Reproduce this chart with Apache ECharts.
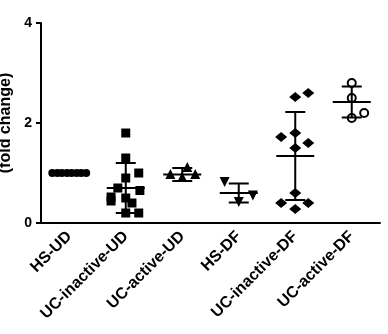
<!DOCTYPE html>
<html>
<head>
<meta charset="utf-8">
<script src="https://cdn.jsdelivr.net/npm/echarts@6/dist/echarts.min.js"></script>
<style>html,body{margin:0;padding:0;background:#fff}#c{width:388px;height:334px}</style>
</head>
<body>
<div id="c"></div>
<script>
var categories = ['HS-UD', 'UC-inactive-UD', 'UC-active-UD', 'HS-DF', 'UC-inactive-DF', 'UC-active-DF'];
var yTicks = [0, 2, 4];
var yName = '(fold change)';

// individual values per group and their horizontal jitter (category units)
var hsUD = [1.0, 1.0, 1.0, 1.0, 1.0, 1.0, 1.0, 1.0];
var hsUDJitter = [-0.3, -0.21, -0.13, -0.04, 0.04, 0.13, 0.21, 0.3];
var ucInactiveUD = [1.8, 1.3, 1.0, 0.9, 0.7, 0.65, 0.52, 0.44, 0.5, 0.4, 0.2, 0.2];
var ucInactiveUDJitter = [0, 0, 0.23, 0, -0.14, 0.25, -0.26, -0.26, 0, 0.11, 0, 0.23];
var ucActiveUD = [1.12, 0.98, 0.98, 0.92];
var ucActiveUDJitter = [0.09, -0.21, 0.23, 0];
var hsDF = [0.82, 0.55, 0.42];
var hsDFJitter = [-0.25, 0.25, 0];
var ucInactiveDF = [2.52, 2.6, 1.72, 1.8, 1.6, 1.5, 0.6, 0.4, 0.4, 0.28];
var ucInactiveDFJitter = [0, 0.23, -0.25, 0, 0.23, 0, 0, -0.25, 0.23, 0];
var ucActiveDF = [2.8, 2.5, 2.2, 2.1];
var ucActiveDFJitter = [0, 0, 0.22, 0];

var means = [1.0, 0.7, 0.97, 0.6, 1.34, 2.42];
var sds = [0.02, 0.5, 0.13, 0.19, 0.88, 0.31];

function pts(idx, vals, jit) {
  return vals.map(function (v, i) { return [idx + jit[i], v]; });
}

var font = 'Liberation Sans, Arial, sans-serif';
var chart = echarts.init(document.getElementById('c'), null, {renderer: 'canvas'});

var errData = means.map(function (m, i) { return [i, m, sds[i]]; });

var scatterBase = {type: 'scatter', xAxisIndex: 1, yAxisIndex: 0, itemStyle: {color: '#000', opacity: 1}, z: 3, silent: true};

chart.setOption({
  animation: false,
  grid: {left: 41, right: 8, top: 23, bottom: 111, containLabel: false, outerBoundsMode: 'none'},
  xAxis: [{
    type: 'category',
    data: categories,
    boundaryGap: true,
    axisLine: {onZero: false, lineStyle: {color: '#000', width: 2}},
    axisTick: {alignWithLabel: true, length: 6, lineStyle: {color: '#000', width: 2}},
    axisLabel: {rotate: 45, color: '#000', fontWeight: 'bold', fontSize: 16, fontFamily: font, margin: 11, interval: 0},
    splitLine: {show: false}
  }, {
    type: 'value', min: -0.5, max: 5.5, show: false
  }],
  yAxis: {
    type: 'value', min: 0, max: 4, interval: 2,
    name: yName, nameLocation: 'middle', nameGap: 26,
    nameTextStyle: {color: '#000', fontWeight: 'bold', fontSize: 16, fontFamily: font},
    axisLine: {show: true, onZero: false, lineStyle: {color: '#000', width: 2}},
    axisTick: {show: true, inside: false, length: 5, lineStyle: {color: '#000', width: 2}},
    axisLabel: {color: '#000', fontWeight: 'bold', fontSize: 14, fontFamily: font, margin: 9,
      formatter: function (v) { return yTicks.indexOf(v) >= 0 ? String(v) : ''; }},
    splitLine: {show: false}
  },
  series: [
    Object.assign({}, scatterBase, {symbol: 'circle', symbolSize: 8, data: pts(0, hsUD, hsUDJitter)}),
    Object.assign({}, scatterBase, {symbol: 'rect', symbolSize: 9, data: pts(1, ucInactiveUD, ucInactiveUDJitter)}),
    Object.assign({}, scatterBase, {symbol: 'triangle', symbolSize: 10, data: pts(2, ucActiveUD, ucActiveUDJitter)}),
    Object.assign({}, scatterBase, {symbol: 'triangle', symbolRotate: 180, symbolSize: 10, data: pts(3, hsDF, hsDFJitter)}),
    Object.assign({}, scatterBase, {symbol: 'diamond', symbolSize: [12, 10], data: pts(4, ucInactiveDF, ucInactiveDFJitter)}),
    Object.assign({}, scatterBase, {symbol: 'circle', symbolSize: 8,
      itemStyle: {color: '#fff', borderColor: '#000', borderWidth: 2, opacity: 1},
      data: pts(5, ucActiveDF, ucActiveDFJitter)}),
    {
      type: 'custom', xAxisIndex: 1, yAxisIndex: 0, z: 4, silent: true,
      data: errData,
      renderItem: function (params, api) {
        var x = api.value(0), m = api.value(1), s = api.value(2);
        var pm = api.coord([x, m]);
        var pt = api.coord([x, m + s]);
        var pb = api.coord([x, m - s]);
        var st = {stroke: '#000', lineWidth: 2};
        var hw = 19, cw = 10;
        return {type: 'group', children: [
          {type: 'line', shape: {x1: pm[0], y1: pt[1], x2: pm[0], y2: pb[1]}, style: st},
          {type: 'line', shape: {x1: pm[0] - hw, y1: pm[1], x2: pm[0] + hw, y2: pm[1]}, style: st},
          {type: 'line', shape: {x1: pm[0] - cw, y1: pt[1], x2: pm[0] + cw, y2: pt[1]}, style: st},
          {type: 'line', shape: {x1: pm[0] - cw, y1: pb[1], x2: pm[0] + cw, y2: pb[1]}, style: st}
        ]};
      }
    }
  ]
});
</script>
</body>
</html>
